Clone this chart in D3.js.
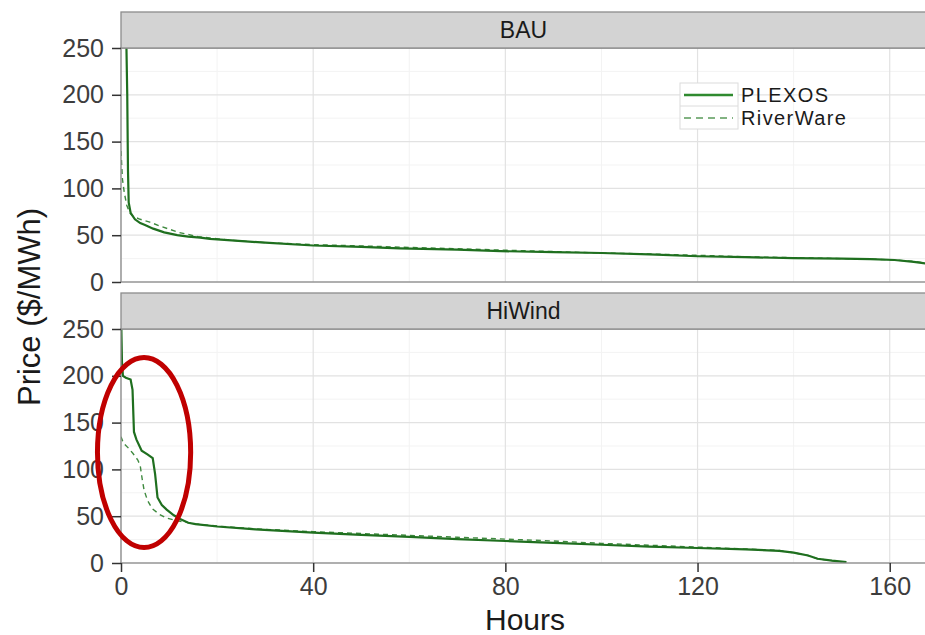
<!DOCTYPE html>
<html>
<head>
<meta charset="utf-8">
<script src="https://cdn.jsdelivr.net/npm/d3@7"></script>
<style>
  body { margin: 0; background: #fff; }
  svg { font-family: "Liberation Sans", Arial, sans-serif; }
</style>
</head>
<body>
<svg width="925" height="635"></svg>
<script>
// panel names (facets)
var panels = ["BAU", "HiWind"];
var seriesNames = ["PLEXOS", "RiverWare"];

// tick labels
var xTicks = [0, 40, 80, 120, 160];
var xMinor = [20, 60, 100, 140];
var yTicks = [0, 50, 100, 150, 200, 250];
var yMinor = [25, 75, 125, 175, 225];

// BAU, PLEXOS
var bauPlexosHours = [0, 1.1, 1.3, 1.45, 1.6, 2, 2.9, 4, 5, 6.7, 9, 11.7, 14, 16.5, 18.5, 23, 30, 40, 50, 58, 70, 79, 90, 100, 110, 120, 130, 140, 150, 156, 161, 165, 168];
var bauPlexosPrice = [300, 260, 200, 120, 85, 74, 67, 63, 61, 57, 53, 50, 48.5, 47.5, 46, 44.5, 42, 39, 37.5, 36, 34.5, 33, 32, 31, 29.5, 27.5, 26.5, 25.5, 25, 24.5, 23.5, 21.5, 19.5];

// BAU, RiverWare
var bauRiverHours = [0, 0.3, 0.7, 1.2, 1.8, 2.5, 4, 6, 8, 12, 16, 22, 30, 40, 50, 60, 70, 80, 90, 100, 110, 120, 130, 140, 150, 156, 161, 165, 168];
var bauRiverPrice = [140, 110, 95, 82, 74, 70, 67, 64, 60, 53, 48.5, 45, 42, 40, 38.5, 37, 35.5, 34, 32.5, 31, 30, 28.5, 27, 26, 25, 24.5, 23.5, 22, 20];

// HiWind, PLEXOS
var windPlexosHours = [0, 0.2, 0.4, 1, 2, 2.4, 2.7, 3.2, 4.3, 5.5, 6.6, 7.1, 7.6, 8.5, 9.5, 11, 12.3, 14, 15.5, 20, 28, 40, 50, 60, 70, 80, 90, 100, 110, 120, 130, 137, 140, 143, 145, 148, 151];
var windPlexosPrice = [270, 215, 200, 198, 196, 185, 140, 132, 120, 116, 112, 95, 70, 62, 57, 51, 47, 43, 41.5, 39, 36, 32.5, 30, 28, 25.5, 23.5, 21.5, 19.5, 17.5, 16, 14.5, 13, 11, 8, 4.5, 2.5, 1];

// HiWind, RiverWare
var windRiverHours = [0, 0.5, 1.5, 2.5, 3.5, 4, 4.4, 4.8, 5.5, 6.5, 8, 9.5, 11, 13, 16, 20, 28, 40, 50, 60, 70, 80, 90, 100, 110, 120, 130, 137, 140, 143, 145, 148, 150];
var windRiverPrice = [135, 128, 123, 117, 110, 104, 90, 78, 67, 58, 52, 48, 46, 44, 41.5, 39.5, 36.5, 33.5, 31.5, 29.5, 27.5, 25.5, 23.5, 21, 19, 17, 15, 13.5, 11, 8, 4.5, 2.5, 1];

var svg = d3.select("svg");

var left = 121, right = 932;
var stripH = 36;
var panelTop = [12, 293];
var plotH = 234;

var xScale = d3.scaleLinear().domain([0, 168.8]).range([left, right]);

var green = "#1f6f1f";

function zip(h, p) {
    return h.map(function(d, i) { return {hour: d, price: p[i]}; });
}

var data = {
    BAU: [zip(bauPlexosHours, bauPlexosPrice), zip(bauRiverHours, bauRiverPrice)],
    HiWind: [zip(windPlexosHours, windPlexosPrice), zip(windRiverHours, windRiverPrice)]
};

panels.forEach(function(name, pi) {
    var top = panelTop[pi] + stripH;
    var yScale = d3.scaleLinear().domain([0, 250]).range([top + plotH, top]);

    var g = svg.append("g");

    // clip so spikes above 250 are cut off
    g.append("clipPath").attr("id", "clip" + pi)
        .append("rect")
        .attr("x", left).attr("y", top)
        .attr("width", right - left).attr("height", plotH);

    // minor grid
    g.selectAll(".xminor").data(xMinor).enter().append("line")
        .attr("x1", xScale).attr("x2", xScale)
        .attr("y1", top).attr("y2", top + plotH)
        .attr("stroke", "#f3f3f3").attr("stroke-width", 1);
    g.selectAll(".yminor").data(yMinor).enter().append("line")
        .attr("x1", left).attr("x2", right)
        .attr("y1", yScale).attr("y2", yScale)
        .attr("stroke", "#f3f3f3").attr("stroke-width", 1);

    // major grid
    g.selectAll(".xmajor").data(xTicks).enter().append("line")
        .attr("x1", xScale).attr("x2", xScale)
        .attr("y1", top).attr("y2", top + plotH)
        .attr("stroke", "#e2e2e2").attr("stroke-width", 1.2);
    g.selectAll(".ymajor").data(yTicks).enter().append("line")
        .attr("x1", left).attr("x2", right)
        .attr("y1", yScale).attr("y2", yScale)
        .attr("stroke", "#e2e2e2").attr("stroke-width", 1.2);

    // series lines
    var line = d3.line()
        .x(function(d) { return xScale(d.hour); })
        .y(function(d) { return yScale(d.price); });

    var lines = g.append("g").attr("clip-path", "url(#clip" + pi + ")");
    lines.append("path").datum(data[name][1])
        .attr("d", line).attr("fill", "none")
        .attr("stroke", "#3f8a3f").attr("stroke-width", 1.4)
        .attr("stroke-dasharray", "5,4");
    lines.append("path").datum(data[name][0])
        .attr("d", line).attr("fill", "none")
        .attr("stroke", green).attr("stroke-width", 2.2);

    // panel border
    g.append("rect")
        .attr("x", left).attr("y", top)
        .attr("width", right - left).attr("height", plotH)
        .attr("fill", "none").attr("stroke", "#8c8c8c").attr("stroke-width", 1.3);

    // strip
    g.append("rect")
        .attr("x", left).attr("y", panelTop[pi])
        .attr("width", right - left).attr("height", stripH)
        .attr("fill", "#d3d3d3").attr("stroke", "#8c8c8c").attr("stroke-width", 1.3);
    g.append("text")
        .attr("x", 523.5).attr("y", panelTop[pi] + stripH / 2 + 8)
        .attr("text-anchor", "middle")
        .attr("font-size", 23).attr("fill", "#1a1a1a")
        .text(name);

    // y axis
    var yAxis = g.append("g")
        .attr("transform", "translate(" + left + ",0)")
        .call(d3.axisLeft(yScale).tickValues(yTicks).tickSize(9).tickPadding(8));
    yAxis.select(".domain").remove();
    yAxis.selectAll(".tick line").attr("stroke", "#333").attr("stroke-width", 1.5);
    yAxis.selectAll(".tick text")
        .attr("font-size", 25).attr("fill", "#3d3d3d")
        .attr("font-family", "Liberation Sans, Arial, sans-serif");

    // x axis only under the last panel
    if (pi === panels.length - 1) {
        var xAxis = g.append("g")
            .attr("transform", "translate(0," + (top + plotH) + ")")
            .call(d3.axisBottom(xScale).tickValues(xTicks).tickSize(9).tickPadding(5));
        xAxis.select(".domain").remove();
        xAxis.selectAll(".tick line").attr("stroke", "#333").attr("stroke-width", 1.5);
        xAxis.selectAll(".tick text")
            .attr("font-size", 25).attr("fill", "#3d3d3d")
            .attr("font-family", "Liberation Sans, Arial, sans-serif");

        // red highlight ellipse around the early hours
        g.append("ellipse")
            .attr("cx", xScale(4.8)).attr("cy", yScale(118))
            .attr("rx", xScale(9.7) - xScale(0)).attr("ry", yScale(0) - yScale(101.5))
            .attr("fill", "none").attr("stroke", "#c00000").attr("stroke-width", 5);
    }
});

// legend
var legend = svg.append("g").attr("transform", "translate(680,83)");
legend.append("rect")
    .attr("width", 58).attr("height", 46)
    .attr("fill", "#fff").attr("stroke", "#dcdcdc");
legend.append("line").attr("x1", 0).attr("x2", 58).attr("y1", 23).attr("y2", 23)
    .attr("stroke", "#dcdcdc");
seriesNames.forEach(function(s, i) {
    var y = 12 + i * 23;
    legend.append("line")
        .attr("x1", 4).attr("x2", 53).attr("y1", y).attr("y2", y)
        .attr("stroke", i === 0 ? "#2f8a2f" : "#5a9a5a")
        .attr("stroke-width", i === 0 ? 2.4 : 1.5)
        .attr("stroke-dasharray", i === 0 ? null : "7,5");
    legend.append("text")
        .attr("x", 61).attr("y", y + 7)
        .attr("font-size", 20).attr("letter-spacing", 1.4)
        .attr("fill", "#1a1a1a")
        .text(s);
});

// axis titles
svg.append("text")
    .attr("x", 525).attr("y", 630)
    .attr("text-anchor", "middle")
    .attr("font-size", 30).attr("fill", "#1a1a1a")
    .text("Hours");
svg.append("text")
    .attr("transform", "translate(40,307) rotate(-90)")
    .attr("text-anchor", "middle")
    .attr("font-size", 31).attr("fill", "#1a1a1a")
    .text("Price ($/MWh)");
</script>
</body>
</html>
